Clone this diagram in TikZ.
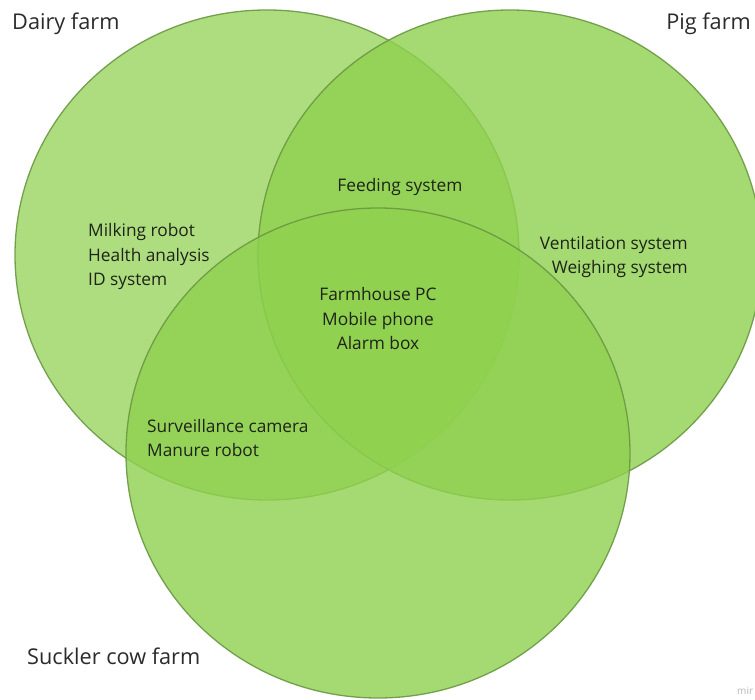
\documentclass[tikz,border=0pt]{standalone}
\usepackage{fontspec}
\setmainfont{Open Sans}
\usetikzlibrary{shapes.geometric}
\definecolor{farmgreen}{HTML}{8FD14F}
\definecolor{farmedge}{HTML}{6A9842}
\definecolor{labelink}{HTML}{1E2418}
\definecolor{titleink}{HTML}{2B2B2B}
\tikzset{
  farm/.style={ellipse, draw=farmedge, line width=1.3pt, fill=farmgreen,
    fill opacity=0.72, draw opacity=0.9, inner sep=0pt,
    minimum width=504pt, minimum height=490pt},
  title/.style={text=titleink, font=\fontsize{21.7}{26}\selectfont, inner sep=0pt},
  item/.style={text=labelink, font=\fontsize{17.3}{24.5}\selectfont, inner sep=0pt},
}
\begin{document}
\begin{tikzpicture}[x=1pt, y=-1pt]
  \useasboundingbox (0,0) rectangle (755,700);
  \fill[white] (0,0) rectangle (755,700);

  % the three farm sets
  \node[farm] (dairy) at (267,255) {};
  \node[farm, fill opacity=0.8] (pig) at (510,255) {};
  \node[farm, fill opacity=0.8] (suckler) at (378,453) {};

  % set titles
  \node[title, anchor=west] (tdairy) at (12,24) {Dairy farm};
  \node[title, anchor=east] (tpig) at (751,24) {Pig farm};
  \node[title, anchor=west] (tsuckler) at (27,656) {Suckler cow farm};

  % equipment per region
  \node[item, anchor=west, align=left] (dairyonly) at (88,257)
    {Milking robot\\Health analysis\\ID system};
  \node[item] (dairypig) at (400,187) {Feeding system};
  \node[item, anchor=east, align=right] (pigonly) at (688,257)
    {Ventilation system\\Weighing system};
  \node[item, align=center] (allthree) at (378,319)
    {Farmhouse PC\\Mobile phone\\Alarm box};
  \node[item, anchor=west, align=left] (dairysuckler) at (147,438)
    {Surveillance camera\\Manure robot};

  % editor mark
  \node[anchor=west, inner sep=0pt, text=black!28, font=\fontsize{10}{11}\selectfont] (mark) at (737,691) {mir};
\end{tikzpicture}
\end{document}
